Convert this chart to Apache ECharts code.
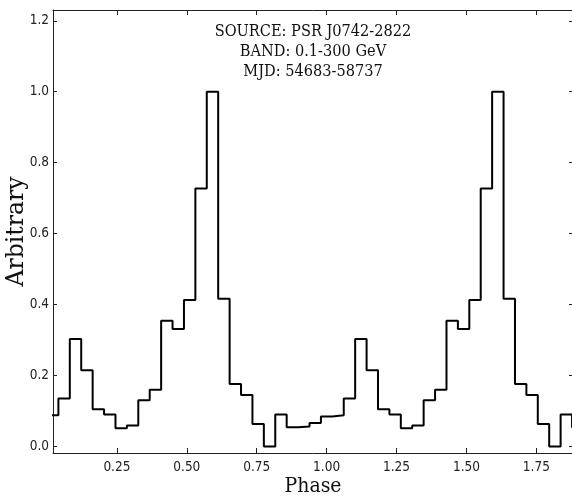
<!DOCTYPE html>
<html>
<head>
<meta charset="utf-8">
<script src="https://cdn.jsdelivr.net/npm/echarts@6/dist/echarts.min.js"></script>
<style>html,body{margin:0;padding:0;background:#fff}#c{width:572px;height:501px}</style>
</head>
<body>
<div id="c"></div>
<script>
// Phase bin edges (left edge of each bin) and normalised counts
var phase = [0, 0.0408, 0.0816, 0.1224, 0.1633, 0.2041, 0.2449, 0.2857, 0.3265, 0.3673,
  0.4082, 0.4490, 0.4898, 0.5306, 0.5714, 0.6122, 0.6531, 0.6939, 0.7347, 0.7755,
  0.8163, 0.8571, 0.8980, 0.9388, 0.9796, 1.0204, 1.0612, 1.1020, 1.1429, 1.1837,
  1.2245, 1.2653, 1.3061, 1.3469, 1.3878, 1.4286, 1.4694, 1.5102, 1.5510, 1.5918,
  1.6327, 1.6735, 1.7143, 1.7551, 1.7959, 1.8367, 1.8776, 1.9184, 1.9592, 2.0];
var counts = [0.088, 0.135, 0.303, 0.215, 0.105, 0.090, 0.051, 0.059, 0.130, 0.160,
  0.354, 0.331, 0.413, 0.727, 1.000, 0.416, 0.176, 0.145, 0.063, 0.000,
  0.090, 0.054, 0.056, 0.066, 0.084, 0.088, 0.135, 0.303, 0.215, 0.105,
  0.090, 0.051, 0.059, 0.130, 0.160, 0.354, 0.331, 0.413, 0.727, 1.000,
  0.416, 0.176, 0.145, 0.063, 0.000, 0.090, 0.054, 0.056, 0.066, 0.084];
var xTicks = [0.25, 0.5, 0.75, 1.0, 1.25, 1.5, 1.75];
var yTicks = [0.0, 0.2, 0.4, 0.6, 0.8, 1.0, 1.2];
var infoLines = ['SOURCE: PSR J0742-2822', 'BAND: 0.1-300 GeV', 'MJD: 54683-58737'];

var X_MIN = 0.0215, X_MAX = 1.881, Y_MIN = -0.0186, Y_MAX = 1.2304;

var seriesData = phase.map(function (p, i) { return [p, counts[i]]; });

var chart = echarts.init(document.getElementById('c'), null, {renderer: 'canvas'});
var sansC = '"DejaVu Sans Condensed", "DejaVu Sans", sans-serif';
var serifC = '"DejaVu Serif Condensed", "DejaVu Serif", serif';
var serif = '"DejaVu Serif", serif';
var lineCol = '#222';

function xAx(pos, showLabel) {
  return {
    type: 'value', position: pos, min: X_MIN, max: X_MAX,
    axisLine: {show: true, onZero: false, lineStyle: {color: lineCol, width: 1}},
    axisTick: {show: true, inside: true, length: 5, customValues: xTicks, lineStyle: {color: lineCol}},
    axisLabel: {show: showLabel, customValues: xTicks, margin: 7, fontFamily: sansC, fontSize: 13.5, color: '#222',
      formatter: function (v) { return v.toFixed(2); }},
    splitLine: {show: false},
    name: showLabel ? 'Phase' : '', nameLocation: 'middle', nameGap: 23, nameMoveOverlap: false,
    nameTextStyle: {fontFamily: serifC, fontSize: 21, color: '#111'}
  };
}
function yAx(pos, showLabel) {
  return {
    type: 'value', position: pos, min: Y_MIN, max: Y_MAX,
    axisLine: {show: true, onZero: false, lineStyle: {color: lineCol, width: 1}},
    axisTick: {show: true, inside: true, length: 4, customValues: yTicks, lineStyle: {color: lineCol}},
    axisLabel: {show: showLabel, customValues: yTicks, margin: 4, fontFamily: sansC, fontSize: 13.5, color: '#222',
      formatter: function (v) { return v.toFixed(1); }},
    splitLine: {show: false},
    name: showLabel ? 'Arbitrary' : '', nameLocation: 'middle', nameGap: 24.5, nameMoveOverlap: false,
    nameTextStyle: {fontFamily: serif, fontSize: 23.5, color: '#111'}
  };
}

chart.setOption({
  animation: false,
  backgroundColor: '#fff',
  grid: {left: 53, right: -1, top: 10, bottom: 48, containLabel: false, outerBoundsMode: 'none'},
  xAxis: [xAx('bottom', true), xAx('top', false)],
  yAxis: [yAx('left', true), yAx('right', false)],
  graphic: infoLines.map(function (t, i) {
    return {type: 'text', x: 313, y: 32 + i * 20, style: {text: t, fontFamily: serifC, fontSize: 16.2,
      fill: '#111', textAlign: 'center', textVerticalAlign: 'middle'}};
  }),
  series: [{
    type: 'line', xAxisIndex: 0, yAxisIndex: 0, step: 'end', data: seriesData,
    showSymbol: false, symbol: 'none', clip: true,
    lineStyle: {color: '#000', width: 2}
  }]
});
</script>
</body>
</html>
